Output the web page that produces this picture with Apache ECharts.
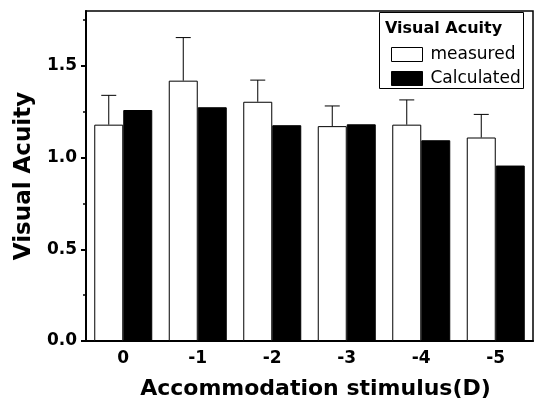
<!DOCTYPE html>
<html>
<head>
<meta charset="utf-8">
<script src="https://cdn.jsdelivr.net/npm/echarts@6/dist/echarts.min.js"></script>
<style>html,body{margin:0;padding:0;background:#fff;}#c{width:536px;height:406px;}</style>
</head>
<body>
<div id="c"></div>
<script>
var categories = ['0', '-1', '-2', '-3', '-4', '-5'];
var measured = [1.18, 1.42, 1.305, 1.172, 1.18, 1.11];
var measuredSD = [0.16, 0.235, 0.118, 0.11, 0.135, 0.126];
var calculated = [1.26, 1.275, 1.177, 1.182, 1.095, 0.957];
var yMajorTicks = [0, 0.5, 1.0, 1.5];
var yMinorTicks = [0.25, 0.75, 1.25, 1.75];

var FONT_B = 'DejaVu Sans';
var chart = echarts.init(document.getElementById('c'), null, {renderer: 'canvas'});
var barW = 29;

var errData = measured.map(function (v, i) { return [i, v, measuredSD[i]]; });

var option = {
  animation: false,
  backgroundColor: '#fff',
  grid: {left: 86, top: 11, right: 3, bottom: 65, show: true, borderColor: '#000', borderWidth: 1.5, backgroundColor: 'transparent'},
  legend: {
    orient: 'vertical', left: 386, top: 41, itemWidth: 31, itemHeight: 14, itemGap: 7,
    textStyle: {fontFamily: FONT_B, fontSize: 17, color: '#000', lineHeight: 14, padding: [0, 0, 0, 3]},
    data: [
      {name: 'measured', icon: 'rect', itemStyle: {color: '#fff', borderColor: '#000', borderWidth: 1}},
      {name: 'Calculated', icon: 'rect', itemStyle: {color: '#000', borderColor: '#000', borderWidth: 1}}
    ],
    z: 10
  },
  graphic: [
    {type: 'rect', left: 379, top: 12, shape: {width: 144, height: 76}, style: {fill: '#fff', stroke: '#000', lineWidth: 1}, z: 5},
    {type: 'text', left: 385, top: 21, style: {text: 'Visual Acuity', font: 'bold 16px "DejaVu Sans"', fill: '#000'}, z: 6}
  ],
  xAxis: [
    {
      type: 'category', data: categories, position: 'bottom',
      axisLine: {lineStyle: {color: '#000', width: 2}},
      axisTick: {alignWithLabel: true, length: 6, lineStyle: {color: '#000', width: 2}},
      axisLabel: {fontFamily: FONT_B, fontWeight: 'bold', fontSize: 17, color: '#000', margin: 9},
      name: 'Accommodation stimulus(D)', nameLocation: 'middle', nameGap: 37,
      nameTextStyle: {fontFamily: FONT_B, fontWeight: 'bold', fontSize: 22, color: '#000', padding: [0, 0, 0, 12]}
    },
    {
      type: 'category', data: categories, position: 'bottom',
      axisLine: {show: false},
      axisTick: {length: 3, lineStyle: {color: '#000', width: 1.5}},
      axisLabel: {show: false}
    }
  ],
  yAxis: [
    {
      type: 'value', min: 0, max: 1.8, interval: 0.5,
      splitLine: {show: false},
      axisLine: {show: true, lineStyle: {color: '#000', width: 2}},
      axisTick: {show: true, length: 5, lineStyle: {color: '#000', width: 2}, customValues: yMajorTicks},
      axisLabel: {customValues: yMajorTicks, fontFamily: FONT_B, fontWeight: 'bold', fontSize: 17, color: '#000', margin: 9,
        formatter: function (v) { return v.toFixed(1); }},
      name: 'Visual Acuity', nameLocation: 'middle', nameGap: 50, nameRotate: 90,
      nameTextStyle: {fontFamily: FONT_B, fontWeight: 'bold', fontSize: 23, color: '#000'}
    },
    {
      type: 'value', min: 0, max: 1.8, interval: 0.25, position: 'left',
      splitLine: {show: false},
      axisLine: {show: false},
      axisTick: {show: true, length: 3, lineStyle: {color: '#000', width: 1.5}, customValues: yMinorTicks},
      axisLabel: {show: false}
    }
  ],
  series: [
    {name: 'measured', type: 'bar', data: measured, barWidth: barW, barGap: '0%',
      itemStyle: {color: '#fff', borderColor: '#000', borderWidth: 1}},
    {name: 'Calculated', type: 'bar', data: calculated, barWidth: barW, barGap: '0%',
      itemStyle: {color: '#000', borderColor: '#000', borderWidth: 1}},
    {name: 'err', type: 'custom', data: errData, z: 3,
      renderItem: function (params, api) {
        var i = api.value(0), v = api.value(1), sd = api.value(2);
        var p0 = api.coord([i, v]);
        var p1 = api.coord([i, v + sd]);
        var x = p0[0] - barW / 2;
        var hw = 7.5;
        return {type: 'group', children: [
          {type: 'line', shape: {x1: x, y1: p0[1], x2: x, y2: p1[1]}, style: {stroke: '#000', lineWidth: 1}},
          {type: 'line', shape: {x1: x - hw, y1: p1[1], x2: x + hw, y2: p1[1]}, style: {stroke: '#000', lineWidth: 1}}
        ]};
      }
    }
  ]
};
chart.setOption(option);
</script>
</body>
</html>
